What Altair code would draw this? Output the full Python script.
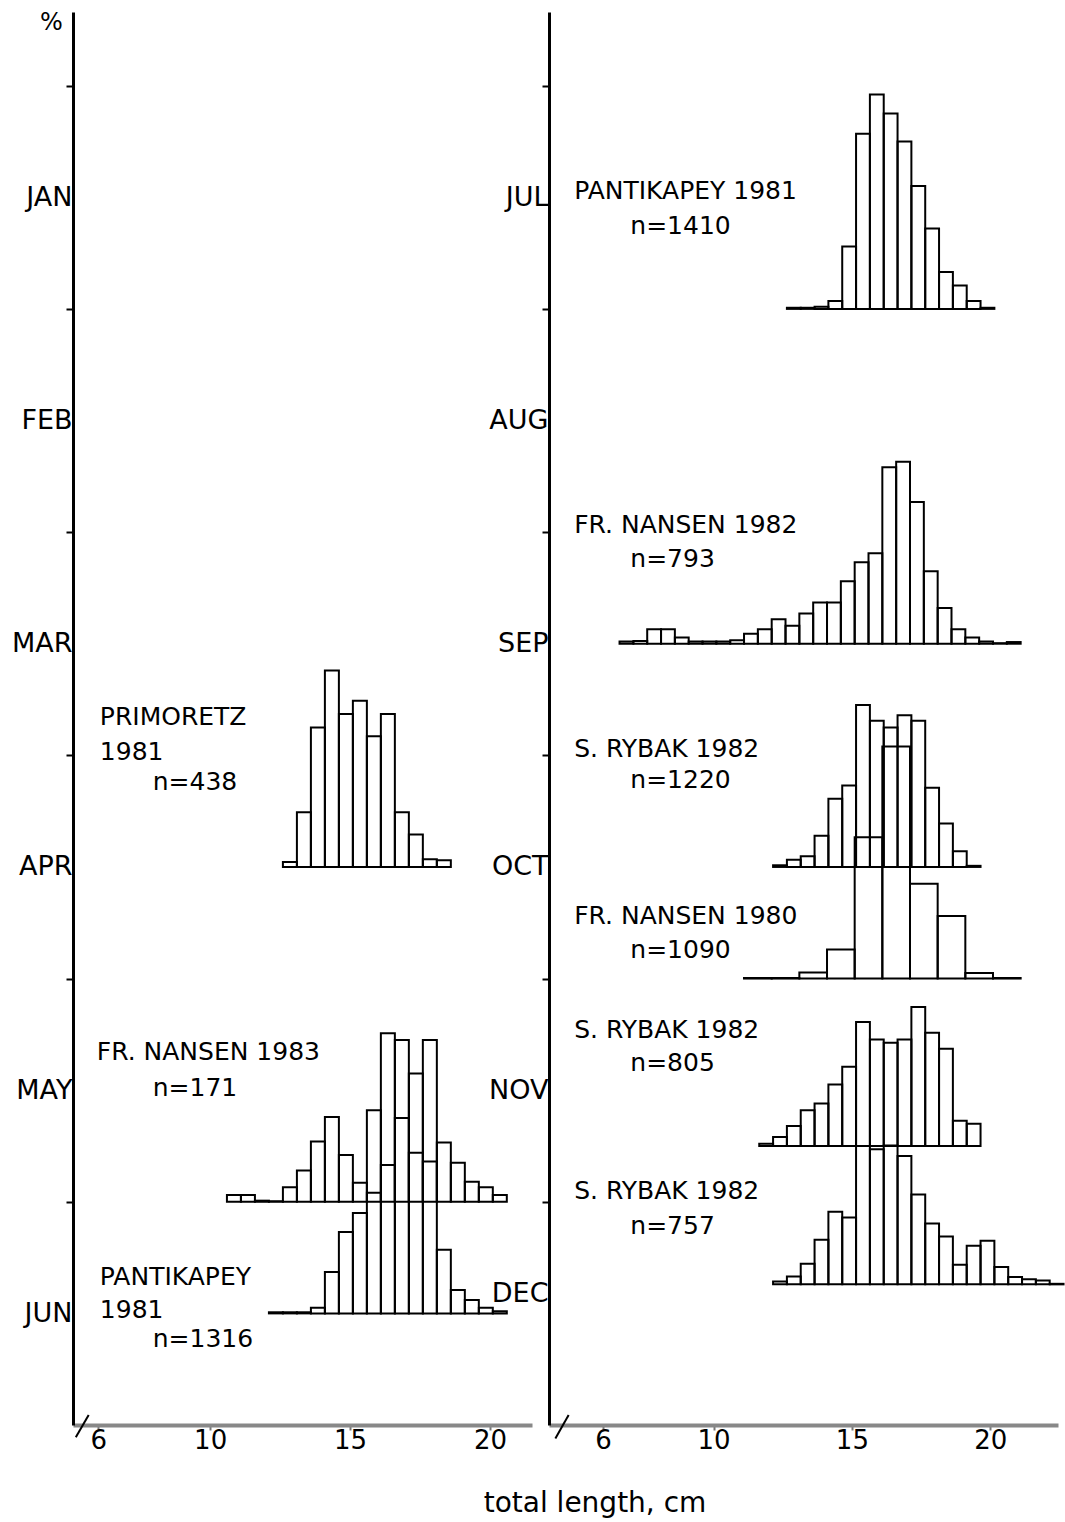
import altair as alt
import pandas as pd

# ---------------- data (percent per length class) ----------------
left_months = ["JAN", "FEB", "MAR", "APR", "MAY", "JUN"]
right_months = ["JUL", "AUG", "SEP", "OCT", "NOV", "DEC"]
month_step = 20  # percent units between successive month ticks

# left panel
primoretz_start, primoretz_width, primoretz_month = 12.6, 0.5, 3.0
primoretz_pct = [0.45, 4.9, 12.5, 17.6, 13.7, 14.9, 11.7, 13.7, 4.9, 2.9, 0.7, 0.6]

nansen83_start, nansen83_width, nansen83_month = 10.6, 0.5, 4.5
nansen83_pct = [0.6, 0.6, 0.1, 0.05, 1.3, 2.8, 5.4, 7.6, 4.2, 1.7, 8.2, 15.1,
                14.5, 11.5, 14.5, 5.3, 3.5, 1.8, 1.3, 0.6]

pantjun_start, pantjun_width, pantjun_month = 12.1, 0.5, 5.0
pantjun_pct = [0.1, 0.1, 0.1, 0.5, 3.7, 7.3, 9.0, 10.8, 13.3, 17.5, 14.4, 13.6,
               5.7, 2.1, 1.2, 0.5, 0.2]

# right panel
pantjul_start, pantjul_width, pantjul_month = 12.65, 0.5, 0.5
pantjul_pct = [0.1, 0.1, 0.2, 0.7, 5.6, 15.7, 19.2, 17.5, 15.0, 11.0, 7.2, 3.3,
               2.1, 0.7, 0.1]

nansen82_start, nansen82_width, nansen82_month = 6.6, 0.5, 2.0
nansen82_pct = [0.2, 0.25, 1.3, 1.3, 0.55, 0.2, 0.2, 0.2, 0.3, 0.9, 1.3, 2.2,
                1.6, 2.7, 3.7, 3.7, 5.6, 7.3, 8.1, 15.8, 16.3, 12.7, 6.5, 3.2,
                1.3, 0.55, 0.2, 0.05, 0.15]

rybakoct_start, rybakoct_width, rybakoct_month = 12.15, 0.5, 3.0
rybakoct_pct = [0.15, 0.65, 0.95, 2.8, 6.1, 7.3, 14.5, 13.1, 12.5, 13.6, 13.1,
                7.1, 3.9, 1.4, 0.1]

nansen80_start, nansen80_width, nansen80_month = 11.1, 1.0, 3.5
nansen80_pct = [0.05, 0.05, 0.55, 2.6, 12.65, 20.8, 8.5, 5.6, 0.5, 0.05]

rybaknov_start, rybaknov_width, rybaknov_month = 11.65, 0.5, 4.25
rybaknov_pct = [0.2, 0.8, 1.8, 3.2, 3.8, 5.5, 7.1, 11.1, 9.55, 9.25, 9.55,
                12.45, 10.15, 8.7, 2.25, 2.0]

rybakdec_start, rybakdec_width, rybakdec_month = 12.15, 0.5, 4.87
rybakdec_pct = [0.25, 0.7, 1.85, 4.0, 6.5, 6.0, 12.4, 12.1, 12.45, 11.5, 8.05,
                5.45, 4.3, 1.75, 3.45, 3.9, 1.55, 0.65, 0.45, 0.35, 0.05]

# labels: (text, x in cm, month position)
left_labels = [
    ("PRIMORETZ", 6.06, 2.33), ("1981", 6.06, 2.485), ("n=438", 7.95, 2.62),
    ("FR. NANSEN 1983", 5.95, 3.83), ("n=171", 7.95, 3.99),
    ("PANTIKAPEY", 6.06, 4.835), ("1981", 6.06, 4.985), ("n=1316", 7.95, 5.115),
]
right_labels = [
    ("PANTIKAPEY 1981", 4.96, -0.03), ("n=1410", 6.99, 0.13),
    ("FR. NANSEN 1982", 4.96, 1.47), ("n=793", 6.99, 1.62),
    ("S. RYBAK 1982", 4.96, 2.47), ("n=1220", 6.99, 2.61),
    ("FR. NANSEN 1980", 4.96, 3.22), ("n=1090", 6.99, 3.37),
    ("S. RYBAK 1982", 4.96, 3.73), ("n=805", 6.99, 3.88),
    ("S. RYBAK 1982", 4.96, 4.45), ("n=757", 6.99, 4.61),
]

x_ticks = [6, 10, 15, 20]


def hist_rows(start, width, month, pcts):
    rows = []
    base = -month * month_step
    for i, p in enumerate(pcts):
        x0 = start + i * width
        rows.append({"x": x0, "x2": x0 + width, "y": base, "y2": base + p})
    return rows


left_df = pd.DataFrame(
    hist_rows(primoretz_start, primoretz_width, primoretz_month, primoretz_pct)
    + hist_rows(nansen83_start, nansen83_width, nansen83_month, nansen83_pct)
    + hist_rows(pantjun_start, pantjun_width, pantjun_month, pantjun_pct)
)
right_df = pd.DataFrame(
    hist_rows(pantjul_start, pantjul_width, pantjul_month, pantjul_pct)
    + hist_rows(nansen82_start, nansen82_width, nansen82_month, nansen82_pct)
    + hist_rows(rybakoct_start, rybakoct_width, rybakoct_month, rybakoct_pct)
    + hist_rows(nansen80_start, nansen80_width, nansen80_month, nansen80_pct)
    + hist_rows(rybaknov_start, rybaknov_width, rybaknov_month, rybaknov_pct)
    + hist_rows(rybakdec_start, rybakdec_width, rybakdec_month, rybakdec_pct)
)
left_text = pd.DataFrame([{"t": t, "x": x, "y": -m * month_step} for t, x, m in left_labels])
right_text = pd.DataFrame([{"t": t, "x": x, "y": -m * month_step} for t, x, m in right_labels])

FONT = "DejaVu Sans"
y_domain = [-110, 16.6]
y_ticks = list(range(-100, 11, 10))


def month_expr(names):
    arr = "[" + ",".join("'%s'" % n for n in names) + "]"
    return ("(datum.value <= 0 && datum.value % 20 == 0) ? "
            + arr + "[round(-datum.value/20)] : ''")


def y_axis(names, with_title):
    kw = dict(values=y_ticks, labelExpr=month_expr(names), tickSize=7, tickWidth=2,
              tickColor="black", domainColor="black", domainWidth=3,
              tickOpacity={"condition": {"test": "datum.value % 20 == 0", "value": 0},
                           "value": 1},
              labelFont=FONT, labelFontSize=27, labelColor="black",
              labelPadding=-6, labelBaseline="middle", grid=False)
    if with_title:
        kw.update(title="%", titleAngle=0, titleX=-22, titleY=10, titleFont=FONT,
                  titleFontSize=24, titleFontWeight="normal", titleAlign="center",
                  titleBaseline="middle", titleColor="black")
    else:
        kw.update(title=None,
                  labelOffset={"condition": {"test": "datum.value == -100", "value": -20},
                               "value": 0})
    return alt.Axis(**kw)


x_axis = alt.Axis(values=x_ticks, tickSize=5, tickWidth=2, tickColor="#777",
                  domainColor="#888", domainWidth=4, labelFont=FONT, labelFontSize=26,
                  labelColor="black", labelPadding=-3, title=None, grid=False)


def panel(df, tdf, xdom, names, width, with_title, slash):
    xs = alt.Scale(domain=xdom, nice=False, zero=False)
    ys = alt.Scale(domain=y_domain, nice=False, zero=False)
    bars = alt.Chart(df).mark_rect(fill="transparent", stroke="black", strokeWidth=2).encode(
        x=alt.X("x:Q", scale=xs, axis=x_axis),
        x2="x2:Q",
        y=alt.Y("y:Q", scale=ys, axis=y_axis(names, with_title)),
        y2="y2:Q",
    )
    texts = alt.Chart(tdf).mark_text(align="left", baseline="middle", font=FONT,
                                     fontSize=25, color="black").encode(
        x="x:Q", y="y:Q", text="t:N")
    sl = alt.Chart(pd.DataFrame([slash])).mark_rule(color="black", strokeWidth=2).encode(
        x="x:Q", x2="x2:Q", y="y:Q", y2="y2:Q")
    return alt.layer(bars, texts, sl).properties(width=width, height=1413)


left = panel(left_df, left_text, [5.1, 21.5], left_months, 459, True,
             {"x": 5.2, "x2": 5.66, "y": -111.1, "y2": -109.1})
right = panel(right_df, right_text, [4.05, 22.45], right_months, 509, False,
              {"x": 4.28, "x2": 4.76, "y": -111.2, "y2": -109.1})

chart = alt.hconcat(left, right, spacing=17, bounds="flush").properties(
    padding={"left": 11, "top": 10, "right": 0, "bottom": 5},
    title=alt.TitleParams(text="total length, cm", orient="bottom", anchor="middle",
                          font=FONT, fontSize=28, fontWeight="normal", color="black",
                          dx=57, offset=37),
).configure(background="white").configure_view(stroke=None)

chart.save("out.html", embed_options={"renderer": "svg", "actions": False})
